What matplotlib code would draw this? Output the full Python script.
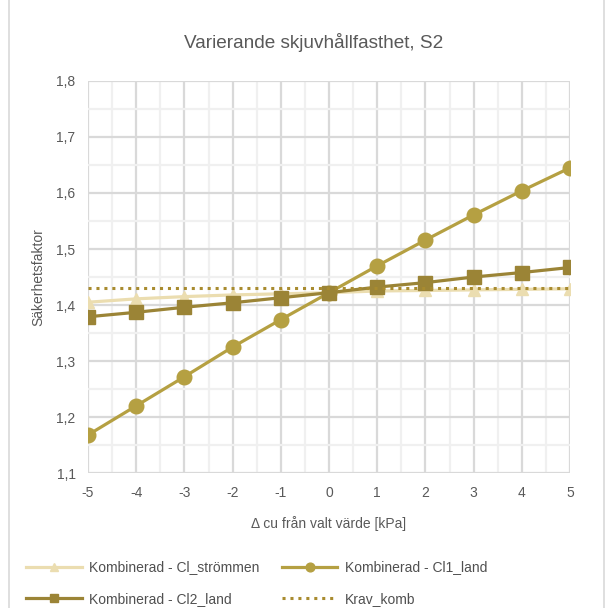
import matplotlib.pyplot as plt
from matplotlib.ticker import MultipleLocator, FuncFormatter

plt.rcParams['font.family'] = ['Liberation Sans', 'DejaVu Sans']
plt.rcParams['axes.unicode_minus'] = False

# delta cu [kPa]
dcu = [-5, -4, -3, -2, -1, 0, 1, 2, 3, 4, 5]

# säkerhetsfaktorer
cl_strommen = [1.405, 1.411, 1.415, 1.418, 1.420, 1.422, 1.425, 1.426, 1.427, 1.428, 1.429]
cl1_land = [1.168, 1.220, 1.272, 1.325, 1.374, 1.422, 1.470, 1.516, 1.561, 1.604, 1.645]
cl2_land = [1.379, 1.387, 1.396, 1.404, 1.413, 1.422, 1.432, 1.440, 1.450, 1.458, 1.467]
krav_komb = [1.43] * len(dcu)

fig = plt.figure(figsize=(6.13, 6.08), dpi=100)
ax = fig.add_axes([0.1436, 0.222, 0.7864, 0.6448])

l1, = ax.plot(dcu, cl_strommen, color='#EBDDB0', lw=2.3, marker='^', ms=9,
              label='Kombinerad - Cl_strömmen', zorder=3)
l2, = ax.plot(dcu, cl1_land, color='#B5A042', lw=2.3, marker='o', ms=10.5,
              label='Kombinerad - Cl1_land', zorder=4)
l3, = ax.plot(dcu, cl2_land, color='#9B8436', lw=2.3, marker='s', ms=9.5,
              label='Kombinerad - Cl2_land', zorder=5)
l4, = ax.plot(dcu, krav_komb, color='#A88B2F', lw=2.2, ls=(0, (1, 1.6)),
              label='Krav_komb', zorder=6)

ax.set_xlim(-5, 5)
ax.set_ylim(1.1, 1.8)
ax.xaxis.set_major_locator(MultipleLocator(1))
ax.xaxis.set_minor_locator(MultipleLocator(0.5))
ax.yaxis.set_major_locator(MultipleLocator(0.1))
ax.yaxis.set_minor_locator(MultipleLocator(0.05))
ax.yaxis.set_major_formatter(FuncFormatter(lambda v, p: f'{v:.1f}'.replace('.', ',')))
ax.grid(which='major', color='#D9D9D9', lw=1.6)
ax.grid(which='minor', color='#F0F0F0', lw=1.6)
ax.set_axisbelow(True)
for s in ax.spines.values():
    s.set_visible(False)
ax.tick_params(which='both', length=0, labelsize=10, labelcolor='#595959', pad=9)

fig.text(0.512, 0.93, 'Varierande skjuvhållfasthet, S2', fontsize=13.7,
         color='#595959', ha='center', va='center')
ax.set_xlabel('Δ cu från valt värde [kPa]', fontsize=10, color='#595959', labelpad=12)
ax.set_ylabel('Säkerhetsfaktor', fontsize=10, color='#595959', labelpad=8)

# radvis ordning: ncol=2 fyller kolumnvis, så ordna om
fig.legend([l1, l3, l2, l4], [l.get_label() for l in (l1, l3, l2, l4)],
           loc='lower left', bbox_to_anchor=(0.022, -0.017), ncol=2, frameon=False,
           fontsize=10, labelcolor='#505050', handlelength=4, markerscale=0.6,
           columnspacing=1.6, handletextpad=0.55, labelspacing=1.25)

# ram runt hela diagrammet
fig.add_artist(plt.Rectangle((0.015, -0.1), 0.97, 1.3, transform=fig.transFigure,
                             fill=False, edgecolor='#D9D9D9', lw=1.2))

fig.savefig('out.png', dpi=100)
